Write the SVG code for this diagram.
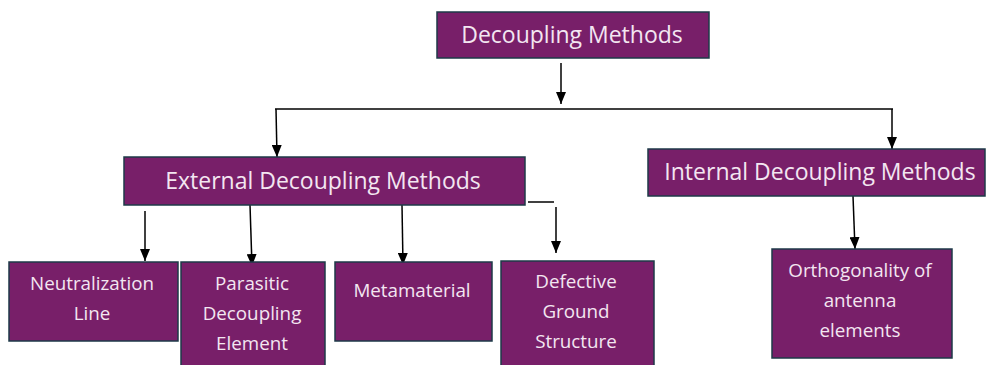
<svg xmlns="http://www.w3.org/2000/svg" width="986" height="365" viewBox="0 0 986 365">
<style>
.box{fill:#781F69;stroke:#1E3A48;stroke-width:1.5}
.t{fill:#F3E6F1;font-family:"Open Sans","Liberation Sans",sans-serif;text-anchor:middle}
.big{font-size:23px}
.sm{font-size:18.8px}
.ln{stroke:#000;stroke-width:1.5;fill:none}
</style>
<defs>
<marker id="ah" viewBox="0 0 12 10" refX="12" refY="5" markerWidth="12" markerHeight="10" markerUnits="userSpaceOnUse" orient="auto">
<path d="M0,0 L12,5 L0,10 z" fill="#000"/>
</marker>
</defs>
<rect width="986" height="365" fill="#fff"/>
<g id="connectors">
<line class="ln" x1="561" y1="63" x2="561" y2="104" marker-end="url(#ah)"/>
<line class="ln" x1="275" y1="109" x2="893" y2="109"/>
<line class="ln" x1="276" y1="109" x2="277" y2="157" marker-end="url(#ah)"/>
<line class="ln" x1="892" y1="109" x2="892" y2="149" marker-end="url(#ah)"/>
<line class="ln" x1="145" y1="211" x2="145" y2="261" marker-end="url(#ah)"/>
<line class="ln" x1="250" y1="205" x2="252" y2="266" marker-end="url(#ah)"/>
<line class="ln" x1="402" y1="205" x2="403" y2="265" marker-end="url(#ah)"/>
<line class="ln" x1="528" y1="202" x2="554" y2="202"/>
<line class="ln" x1="556" y1="207" x2="556" y2="253" marker-end="url(#ah)"/>
<line class="ln" x1="853" y1="196" x2="855" y2="249" marker-end="url(#ah)"/>
</g>
<g id="decoupling-methods">
<rect class="box" x="437" y="12" width="272" height="46"/>
<text class="t big" x="572" y="43">Decoupling Methods</text>
</g>
<g id="external">
<rect class="box" x="124" y="157" width="401" height="48"/>
<text class="t big" x="323" y="189">External Decoupling Methods</text>
</g>
<g id="internal">
<rect class="box" x="648" y="149" width="337" height="47"/>
<text class="t big" x="820" y="180">Internal Decoupling Methods</text>
</g>
<g id="neutralization">
<rect class="box" x="9" y="262" width="169" height="79"/>
<text class="t sm" x="92" y="290">Neutralization</text>
<text class="t sm" x="92" y="320">Line</text>
</g>
<g id="parasitic">
<rect class="box" x="181" y="262" width="144" height="106"/>
<text class="t sm" x="252" y="290">Parasitic</text>
<text class="t sm" x="252" y="320">Decoupling</text>
<text class="t sm" x="252" y="350">Element</text>
</g>
<g id="metamaterial">
<rect class="box" x="335" y="262" width="157" height="79"/>
<text class="t sm" x="412" y="297">Metamaterial</text>
</g>
<g id="defective">
<rect class="box" x="501" y="261" width="153" height="107"/>
<text class="t sm" x="576" y="288">Defective</text>
<text class="t sm" x="576" y="318">Ground</text>
<text class="t sm" x="576" y="348">Structure</text>
</g>
<g id="orthogonality">
<rect class="box" x="772" y="249" width="180" height="109"/>
<text class="t sm" x="860" y="277">Orthogonality of</text>
<text class="t sm" x="860" y="307">antenna</text>
<text class="t sm" x="860" y="337">elements</text>
</g>
</svg>
